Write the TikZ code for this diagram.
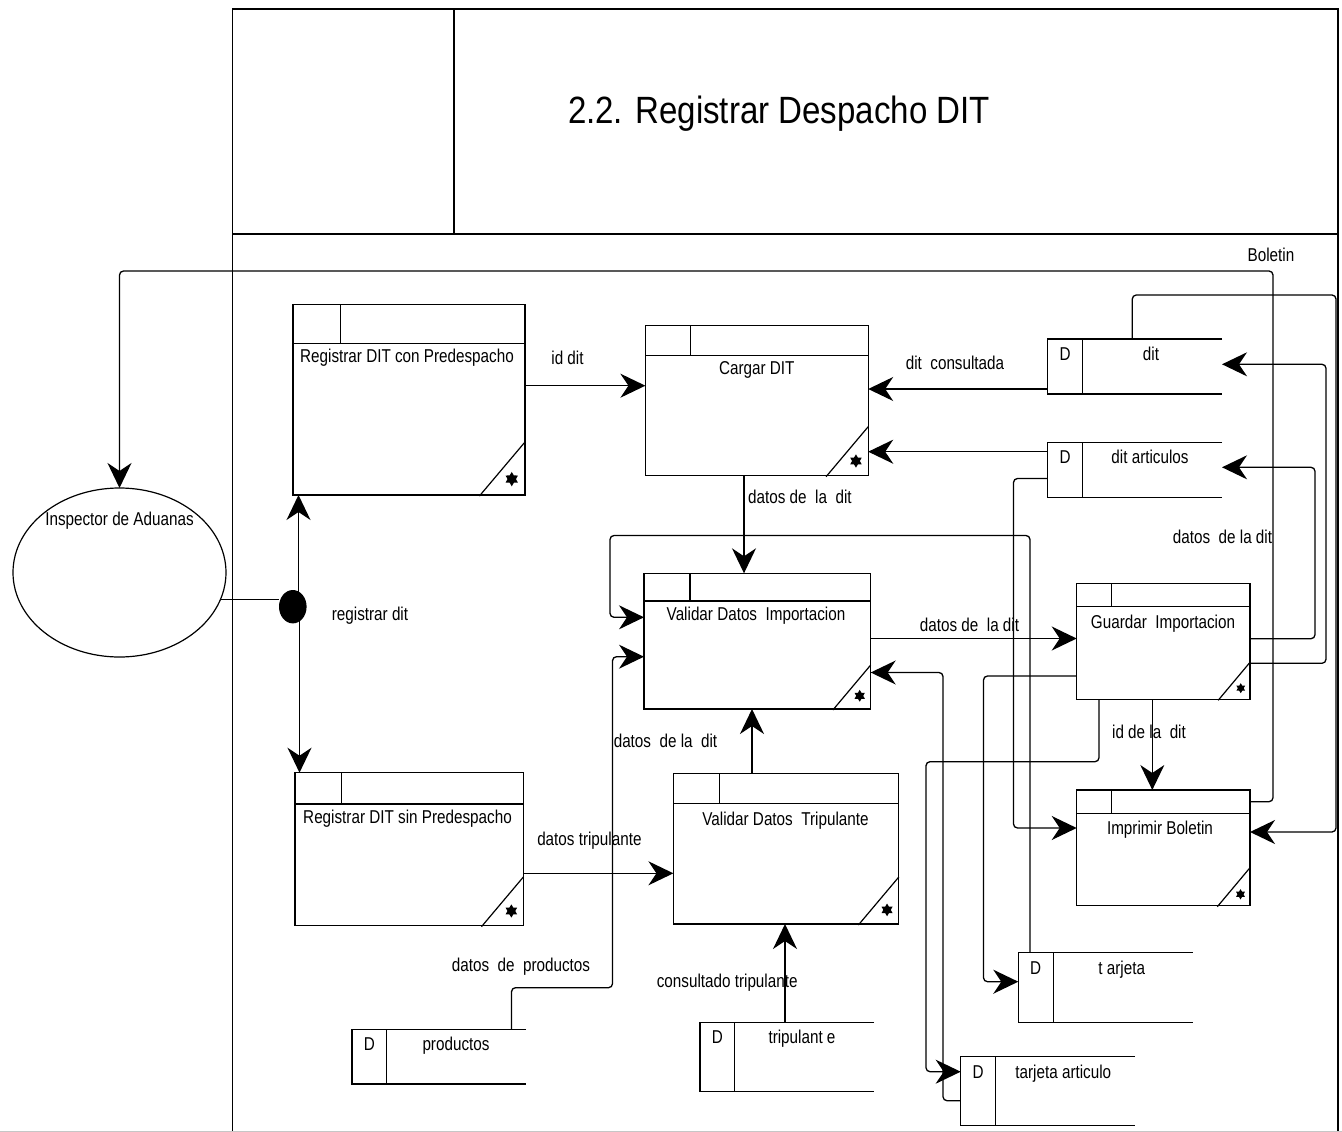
\documentclass[tikz,border=0pt]{standalone}
\usepackage{fontspec}
\setmainfont{Liberation Sans}[FakeStretch=0.82]
\newfontfamily\titlefont{Liberation Sans}[FakeStretch=0.87]
\usetikzlibrary{arrows.meta,shapes.geometric}

\newcommand\lblfont{\fontsize{18.6}{20}\selectfont}

\tikzset{
  frame/.style={line width=1.6pt},
  edge/.style={line width=1.2pt},
  box/.style={draw, line width=1.2pt, inner sep=0pt, outer sep=0pt, anchor=north west},
  flow/.style={line width=1.3pt, rounded corners=4pt,
    -{Stealth[length=25pt,width=24pt,inset=8pt]}},
  wire/.style={line width=1.2pt, rounded corners=4pt},
  lbl/.style={inner sep=0pt, text height=13.3pt, text depth=0pt, font=\lblfont},
  mark6/.style={star, star points=6, star point ratio=1.7, fill=black, draw=none, inner sep=0pt},
}

% process box: name, x1, y1, x2, y2, header height, tab width, corner size
\newcommand\procbox[8]{%
  \node[box, minimum width={#4-#2}, minimum height={#5-#3}] (#1) at (#2,#3) {};
  \draw[edge] (#2,#3+#6) -- (#4,#3+#6);
  \draw[edge] (#2+#7,#3) -- (#2+#7,#3+#6);
  \draw[edge] (#4,#5-#8) -- (#4-0.86*#8,#5+1);
  \node[mark6, minimum size={0.27*#8}] (#1-m) at (#4-0.25*#8,#5-0.3*#8) {};
}

% data store: name, x1, y1, x2, y2, label, label x
\newcommand\storebox[7]{%
  \node[inner sep=0pt, outer sep=0pt, anchor=north west,
        minimum width={#4-#2}, minimum height={#5-#3}] (#1) at (#2,#3) {};
  \draw[edge] (#4,#3) -- (#2,#3) -- (#2,#5) -- (#4,#5);
  \draw[edge] (#2+34.8,#3) -- (#2+34.8,#5);
  \node[lbl] (#1-d) at (#2+17.4,#3+14.8) {D};
  \node[lbl] (#1-t) at (#7,#3+14.8) {#6};
}

\begin{document}
\begin{tikzpicture}[x=1pt,y=-1pt]
\useasboundingbox (0,0) rectangle (1342,1132);

% swimlane frame and title block
\draw[frame] (232.5,1132) -- (232.5,9) -- (1338,9) -- (1338,1132);
\draw[frame] (232.5,234) -- (1338,234);
\draw[frame] (454,9) -- (454,234);
\node[inner sep=0pt, text height=27pt, text depth=0pt,
      font=\titlefont\fontsize{38}{40}\selectfont] (title) at (779,110.5)
      {2.2. Registrar Despacho DIT};
\draw[gray!45, line width=1pt] (0,1131) -- (1342,1131);

% actor and fork
\node[draw, ellipse, line width=1.2pt, minimum width=213pt, minimum height=169pt,
      inner sep=0pt, outer sep=0pt] (insp) at (119.5,572.5) {};
\node[lbl] (insp-t) at (119.5,519.3) {Inspector de Aduanas};
\node[ellipse, fill=black, minimum width=27.6pt, minimum height=33.4pt,
      inner sep=0pt, outer sep=0pt] (fork) at (292.8,606.7) {};
\node[lbl] (fork-t) at (370,614) {registrar dit};

% processes
\procbox{reg1}{292.9}{304.7}{525}{495}{38.6}{47.5}{53}
\node[lbl] (reg1-t) at (407,356) {Registrar DIT con Predespacho};
\procbox{cargar}{645.4}{325.7}{868.2}{475.7}{30}{45.3}{49}
\node[lbl] (cargar-t) at (756.8,368) {Cargar DIT};
\procbox{valimp}{644}{573.3}{870.7}{709}{27.7}{46}{44}
\node[lbl] (valimp-t) at (756,614.3) {Validar Datos\ \ Importacion};
\procbox{guardar}{1076.7}{583.3}{1250}{699.3}{23.4}{35}{37}
\node[lbl] (guardar-t) at (1163,621.7) {Guardar\ \ Importacion};
\procbox{imprimir}{1076.7}{790}{1250}{905.7}{23.3}{35}{38}
\node[lbl] (imprimir-t) at (1160,828.3) {Imprimir Boletin};
\procbox{regsin}{295}{772.7}{523.6}{925.7}{31.3}{46.3}{49}
\node[lbl] (regsin-t) at (407.5,817.3) {Registrar DIT sin Predespacho};
\procbox{valtrip}{673.4}{773.5}{898.8}{924}{29.8}{46.3}{47}
\node[lbl] (valtrip-t) at (785.5,819) {Validar Datos\ \ Tripulante};

% data stores
\storebox{dit}{1047.7}{339}{1222}{394}{dit}{1151}
\storebox{ditart}{1047.7}{442.3}{1222}{497.7}{dit articulos}{1150}
\storebox{prod}{352}{1029.3}{526}{1084}{productos}{456}
\storebox{tripst}{700}{1022.3}{874}{1091.7}{tripulant e}{802}
\storebox{tarj}{1018.3}{952.7}{1192.7}{1022.3}{t arjeta}{1121.7}
\storebox{tarjart}{960.7}{1056.7}{1135}{1125.7}{tarjeta articulo}{1063.3}

% flows
\draw[wire] (insp.-15) -- (insp.-15 -| fork.west);
\draw[flow] (fork.center -| 298.5,0) -- (reg1.south -| 298.5,0);
\draw[flow] (fork.center -| 299.5,0) -- (regsin.north -| 299.5,0);

\draw[flow] (reg1.east |- 0,385.7) -- (cargar.west |- 0,385.7);
\node[lbl] (l-iddit) at (567.5,358.3) {id dit};

\draw[flow] (dit.west |- 0,389) -- (cargar.east |- 0,389);
\node[lbl] (l-ditcons) at (955,362.7) {dit\ \ consultada};
\draw[flow] (ditart.west |- 0,451.7) -- (cargar.east |- 0,451.7);

\draw[flow] (cargar.south -| 744,0) -- (valimp.north -| 744,0);
\node[lbl, anchor=west] (l-datos1) at (748,497) {datos de\ \ la\ \ dit};

\draw[flow] (valimp.east |- 0,638.5) -- (guardar.west |- 0,638.5);
\node[lbl] (l-datos2) at (969.5,625) {datos de\ \ la dit};

\draw[flow] (guardar.south -| 1152.3,0) -- (imprimir.north -| 1152.3,0);
\node[lbl] (l-idde) at (1149,731.7) {id de la\ \ dit};

\draw[flow] (valtrip.north -| 752,0) -- (valimp.south -| 752,0);
\node[lbl] (l-datos4) at (665.5,740.7) {datos\ \ de la\ \ dit};

\draw[flow] (regsin.east |- 0,873.3) -- (valtrip.west |- 0,873.3);
\node[lbl] (l-trip) at (589.4,839) {datos tripulante};

\draw[flow] (tripst.north -| 785,0) -- (valtrip.south -| 785,0);
\node[lbl] (l-cons) at (727.2,980.7) {consultado tripulante};

\draw[flow] (prod.north -| 511.5,0) -- (511.5,987.7) -- (612.5,987.7)
  -- (612.5,656.7) -- (valimp.west |- 0,656.7);
\node[lbl] (l-prod) at (521,965) {datos\ \ de\ \ productos};

\draw[flow] (tarj.north -| 1030,0) -- (1030,535.5) -- (610,535.5)
  -- (610,617.3) -- (valimp.west |- 0,617.3);

\draw[flow] (tarjart.west |- 0,1100.7) -- (943,1100.7) -- (943,672.5)
  -- (valimp.east |- 0,672.5);

\draw[flow] (guardar.east |- 0,638.7) -- (1315,638.7) -- (1315,467.3)
  -- (ditart.east |- 0,467.3);
\node[lbl] (l-datos3) at (1222.5,536.7) {datos\ \ de la dit};

\draw[flow] (guardar.east |- 0,663.3) -- (1326,663.3) -- (1326,364.3)
  -- (dit.east |- 0,364.3);

\draw[flow] (guardar.west |- 0,676) -- (983.5,676) -- (983.5,981.7)
  -- (tarj.west |- 0,981.7);

\draw[flow] (guardar.south -| 1099,0) -- (1099,761.7) -- (926,761.7)
  -- (926,1071.7) -- (tarjart.west |- 0,1071.7);

\draw[flow] (ditart.west |- 0,478.5) -- (1013.5,478.5) -- (1013.5,828)
  -- (imprimir.west |- 0,828);

\draw[flow] (dit.north -| 1132.3,0) -- (1132.3,295) -- (1336,295)
  -- (1336,832) -- (imprimir.east |- 0,832);

\draw[flow] (imprimir.east |- 0,801.7) -- (1273,801.7) -- (1273,271)
  -- (119.5,271) -- (insp.north);
\node[lbl] (l-bol) at (1271,255) {Boletin};

\end{tikzpicture}
\end{document}
